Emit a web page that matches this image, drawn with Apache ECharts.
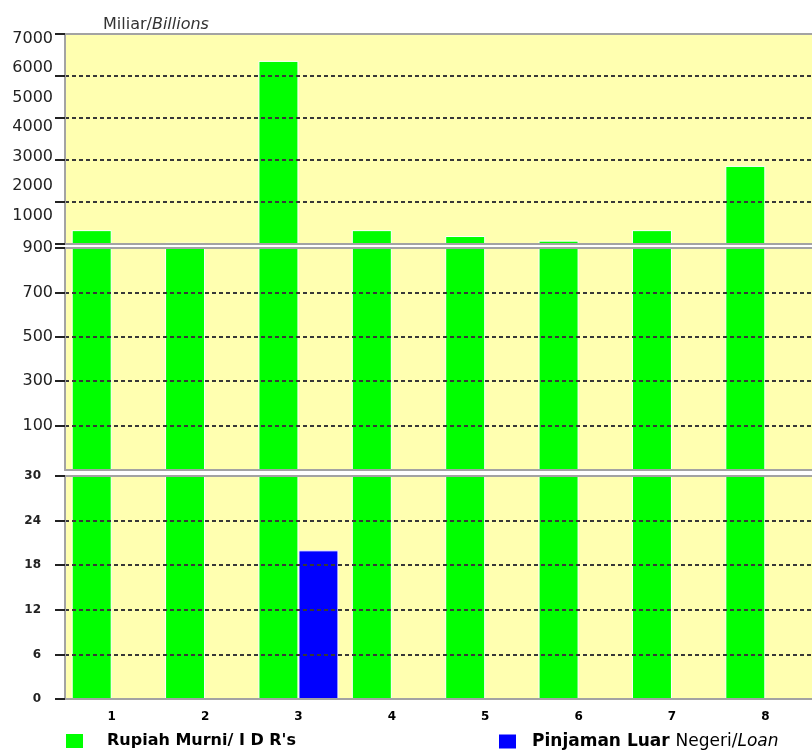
<!DOCTYPE html>
<html>
<head>
<meta charset="utf-8">
<script src="https://cdn.jsdelivr.net/npm/echarts@6/dist/echarts.min.js"></script>
<style>
  html, body { margin: 0; padding: 0; background: #fff; }
  #chart { width: 812px; height: 750px; }
</style>
</head>
<body>
<div id="chart"></div>
<script>
const categories = ['1', '2', '3', '4', '5', '6', '7', '8']
const rupiahMurni = [2330, 2030, 6360, 2330, 2190, 2080, 2330, 3860]
const pinjamanLuarNegeri = [0, 0, 20, 0, 0, 0, 0, 0]
const topLabels = [1000, 2000, 3000, 4000, 5000, 6000, 7000]
const seriesNames = ['Rupiah Murni/ I D R\'s', 'Pinjaman Luar Negeri/Loan']
const seriesValues = [rupiahMurni, pinjamanLuarNegeri]
const seriesColors = ['#00ff00', '#0000ff']

// broken axis: three stacked panels, top to bottom
const panels = [
  { top: 34, height: 210, min: 2000, max: 7000, interval: 1000, cut: 2000 },
  { top: 248, height: 222, min: -100, max: 900, interval: 200, cut: 30 },
  { top: 476, height: 223, min: 0, max: 30, interval: 6, cut: 0 }
]

const GRAY = '#a3a3a3'
const chart = echarts.init(document.getElementById('chart'))

const grid = panels.map(p => ({
  left: 65,
  width: 751,
  top: p.top,
  height: p.height,
  show: true,
  backgroundColor: '#ffffb0',
  borderWidth: 0
}))

const xAxis = []
panels.forEach((p, i) => {
  xAxis.push({
    gridIndex: i,
    type: 'category',
    data: categories,
    position: 'bottom',
    z: 3,
    axisLine: { onZero: false, lineStyle: { color: GRAY, width: 2 } },
    axisTick: { show: false },
    axisLabel: {
      show: i === 2,
      margin: 12,
      color: '#000',
      fontFamily: 'DejaVu Sans',
      fontWeight: 'bold',
      fontSize: 12
    }
  })
  xAxis.push({
    gridIndex: i,
    type: 'category',
    data: categories,
    position: 'top',
    z: 3,
    axisLine: { onZero: false, lineStyle: { color: GRAY, width: 2 } },
    axisTick: { show: false },
    axisLabel: { show: false }
  })
})

const yAxis = panels.map((p, i) => ({
  gridIndex: i,
  type: 'value',
  position: 'left',
  min: p.min,
  max: p.max,
  interval: p.interval,
  startValue: p.min,
  z: 3,
  axisLine: { show: true, lineStyle: { color: GRAY, width: 2 } },
  axisTick: { show: true, length: 10, lineStyle: { color: '#222', width: 2 } },
  splitLine: {
    show: true,
    showMinLine: false,
    showMaxLine: false,
    lineStyle: { color: '#383838', width: 2, type: [4, 3] }
  },
  axisLabel: i === 0 ? { show: false } : {
    showMinLabel: i === 2,
    margin: i === 2 ? 24 : 12,
    color: '#222',
    fontFamily: 'DejaVu Sans',
    fontWeight: i === 2 ? 'bold' : 'normal',
    fontSize: i === 2 ? 12 : 16
  }
}))

// the labels of the upper panel sit on their own spacing
yAxis.push({
  gridIndex: 0,
  type: 'value',
  position: 'left',
  min: 50,
  max: 7150,
  axisLine: { show: false },
  axisTick: { show: false },
  splitLine: { show: false },
  axisLabel: {
    customValues: topLabels,
    formatter: v => String(v),
    margin: 12,
    color: '#222',
    fontFamily: 'DejaVu Sans',
    fontSize: 16
  }
})

const series = []
panels.forEach((p, i) => {
  seriesNames.forEach((name, s) => {
    series.push({
      type: 'bar',
      name,
      xAxisIndex: i * 2,
      yAxisIndex: i,
      barWidth: 40,
      barGap: '0%',
      itemStyle: { color: seriesColors[s], borderColor: '#fff', borderWidth: 1 },
      data: seriesValues[s].map(v => (v > p.cut ? v : '-'))
    })
  })
})

const legendBase = {
  top: 733,
  padding: 0,
  icon: 'rect',
  itemWidth: 17,
  itemHeight: 14,
  selectedMode: false,
  itemStyle: { borderWidth: 0 }
}

chart.setOption({
  animation: false,
  title: {
    left: 98,
    top: 12,
    text: '{a|Miliar/}{b|Billions}',
    textStyle: {
      rich: {
        a: { fontFamily: 'DejaVu Sans', fontSize: 16, fontWeight: 'normal', color: '#333' },
        b: { fontFamily: 'DejaVu Sans', fontSize: 16, fontWeight: 'normal', color: '#333', fontStyle: 'italic' }
      }
    }
  },
  legend: [
    {
      ...legendBase,
      left: 66,
      data: [seriesNames[0]],
      textStyle: {
        padding: [0, 0, 0, 19],
        color: '#000',
        fontFamily: 'DejaVu Sans',
        fontWeight: 'bold',
        fontSize: 16
      }
    },
    {
      ...legendBase,
      left: 499,
      data: [seriesNames[1]],
      formatter: () => '{b|Pinjaman Luar }{n|Negeri/}{i|Loan}',
      textStyle: {
        padding: [0, 0, 0, 11],
        rich: {
          b: { color: '#000', fontFamily: 'DejaVu Sans', fontWeight: 'bold', fontSize: 17 },
          n: { color: '#000', fontFamily: 'DejaVu Sans', fontSize: 17 },
          i: { color: '#000', fontFamily: 'DejaVu Sans', fontStyle: 'italic', fontSize: 17 }
        }
      }
    }
  ],
  grid,
  xAxis,
  yAxis,
  series
})
</script>
</body>
</html>
